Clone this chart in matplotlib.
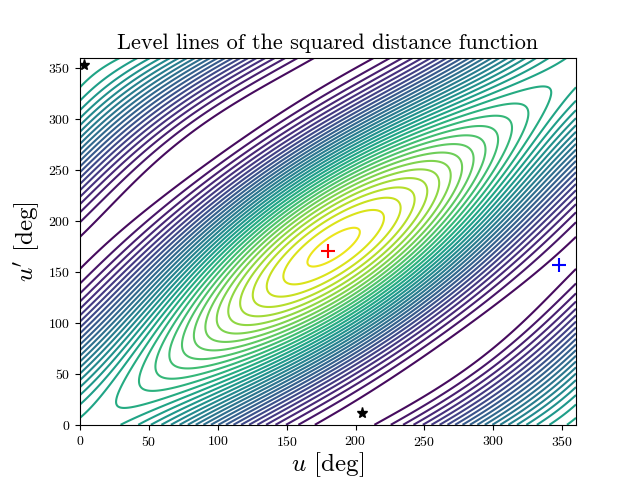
import numpy as np
import matplotlib
matplotlib.use("Agg")
import matplotlib.pyplot as plt

plt.rcParams["font.family"] = "serif"
plt.rcParams["font.serif"] = ["cmr10"]
plt.rcParams["mathtext.fontset"] = "cm"
plt.rcParams["axes.formatter.use_mathtext"] = True

# orbit parameters
a1, e1 = 1.0, 0.15
a2, e2 = 1.05, 0.1
omega2 = np.deg2rad(190.0)
inc2 = np.deg2rad(6.0)
n_levels = 36
max_pt = (180, 170)
saddle_pt = (348, 157)
min_pts_u = [3, 205]
min_pts_v = [353, 12]

u = np.deg2rad(np.linspace(0, 360, 400))
v = np.deg2rad(np.linspace(0, 360, 400))
U, V = np.meshgrid(u, v)
x1 = a1 * (np.cos(U) - e1)
y1 = a1 * np.sqrt(1 - e1**2) * np.sin(U)
z1 = 0 * U
xp = a2 * (np.cos(V) - e2)
yp = a2 * np.sqrt(1 - e2**2) * np.sin(V)
x2 = xp * np.cos(omega2) - yp * np.sin(omega2) * np.cos(inc2)
y2 = xp * np.sin(omega2) + yp * np.cos(omega2) * np.cos(inc2)
z2 = yp * np.sin(inc2)
D = (x1 - x2)**2 + (y1 - y2)**2 + (z1 - z2)**2

fig, ax = plt.subplots(figsize=(6.4, 4.8), dpi=100)
fig.subplots_adjust(left=0.125, right=0.9, bottom=0.115, top=0.88)
ax.contour(np.rad2deg(U), np.rad2deg(V), D, levels=n_levels, cmap="viridis",
           linewidths=1.5)
ax.plot(*max_pt, "r+", ms=10, mew=1.5)
ax.plot(*saddle_pt, "b+", ms=10, mew=1.5)
ax.plot(min_pts_u, min_pts_v, "k*", ms=8)
ax.set_xlim(0, 360)
ax.set_ylim(0, 360)
ax.tick_params(labelsize=10)
ax.set_xlabel(r"$u$ [deg]", fontsize=18, labelpad=1)
ax.set_ylabel(r"$u'$ [deg]", fontsize=18)
ax.set_title("Level lines of the squared distance function", fontsize=16)
fig.savefig("out.png")
